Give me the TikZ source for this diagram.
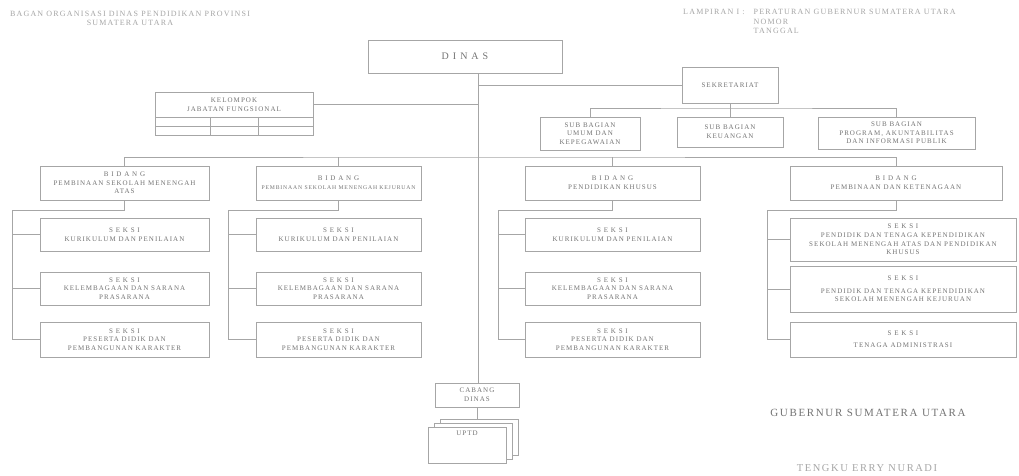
\documentclass[tikz,border=0pt]{standalone}
\usepackage{fontspec}
\setmainfont{Liberation Serif}
\newfontfamily\orgfont[LetterSpace=15]{Liberation Serif}
\colorlet{linegray}{black!35}
\colorlet{txtgray}{black!55}
\colorlet{hdrgray}{black!35}
\begin{document}
\begin{tikzpicture}[x=1pt,y=-1pt,
    unit/.style={draw=linegray, line width=0.6pt, inner sep=1pt, align=center, text=txtgray, font=\orgfont\fontsize{7}{8.6}\selectfont},
    link/.style={draw=linegray, line width=0.6pt},
    note/.style={text=hdrgray, inner sep=0pt, font=\orgfont\fontsize{8}{9.5}\selectfont}]
\useasboundingbox[fill=white] (0,0) rectangle (1019,476);
\node[note, align=center] (bagan) at (130,18.5) {BAGAN ORGANISASI DINAS PENDIDIKAN PROVINSI\\SUMATERA UTARA};
\node[note, anchor=north west] (lampiran) at (683,8) {\renewcommand\arraystretch{1.0}\begin{tabular}{@{}l@{\hspace{9pt}}l@{}}LAMPIRAN I : & PERATURAN GUBERNUR SUMATERA UTARA\\ & NOMOR\\ & TANGGAL\end{tabular}};
\node[unit, minimum width=194pt, minimum height=33pt, font=\orgfont\fontsize{10}{11}\selectfont] (dinas) at (465,56.5) {D I N A S};
\coordinate (spine) at (478,73);
\node[unit, minimum width=96pt, minimum height=36pt] (sekre) at (730,85) {SEKRETARIAT};
\node[unit, minimum width=158pt, minimum height=25pt] (kelompok) at (234,104.5) {KELOMPOK\\JABATAN FUNGSIONAL};
\draw[link] (155,117) rectangle (313,135) (155,126) -- (313,126) (210,117) -- (210,135) (258,117) -- (258,135);
\node[unit, minimum width=100pt, minimum height=33pt] (subumum) at (590,133.5) {SUB BAGIAN\\UMUM DAN\\KEPEGAWAIAN};
\node[unit, minimum width=106pt, minimum height=30pt] (subkeu) at (730,132) {SUB BAGIAN\\KEUANGAN};
\node[unit, minimum width=157pt, minimum height=32pt] (subprog) at (896.5,133) {SUB BAGIAN\\PROGRAM, AKUNTABILITAS\\DAN INFORMASI PUBLIK};
\node[unit, minimum width=169pt, minimum height=34pt] (bidA) at (124.5,183) {B I D A N G\\PEMBINAAN SEKOLAH MENENGAH\\ATAS};
\node[unit, minimum width=165pt, minimum height=34pt] (bidB) at (338.5,183) {B I D A N G\\{\fontsize{5.7}{8.6}\selectfont PEMBINAAN SEKOLAH MENENGAH KEJURUAN}};
\node[unit, minimum width=175pt, minimum height=34pt] (bidC) at (612.5,183) {B I D A N G\\PENDIDIKAN KHUSUS};
\node[unit, minimum width=212pt, minimum height=34pt] (bidD) at (896,183) {B I D A N G\\PEMBINAAN DAN KETENAGAAN};
\node[unit, minimum width=169pt, minimum height=33pt] (sekA1) at (124.5,234.5) {S E K S I\\KURIKULUM DAN PENILAIAN};
\node[unit, minimum width=169pt, minimum height=33pt] (sekA2) at (124.5,288.5) {S E K S I\\KELEMBAGAAN DAN SARANA\\PRASARANA};
\node[unit, minimum width=169pt, minimum height=35pt] (sekA3) at (124.5,339.5) {S E K S I\\PESERTA DIDIK DAN\\PEMBANGUNAN KARAKTER};
\node[unit, minimum width=165pt, minimum height=33pt] (sekB1) at (338.5,234.5) {S E K S I\\KURIKULUM DAN PENILAIAN};
\node[unit, minimum width=165pt, minimum height=33pt] (sekB2) at (338.5,288.5) {S E K S I\\KELEMBAGAAN DAN SARANA\\PRASARANA};
\node[unit, minimum width=165pt, minimum height=35pt] (sekB3) at (338.5,339.5) {S E K S I\\PESERTA DIDIK DAN\\PEMBANGUNAN KARAKTER};
\node[unit, minimum width=175pt, minimum height=33pt] (sekC1) at (612.5,234.5) {S E K S I\\KURIKULUM DAN PENILAIAN};
\node[unit, minimum width=175pt, minimum height=33pt] (sekC2) at (612.5,288.5) {S E K S I\\KELEMBAGAAN DAN SARANA\\PRASARANA};
\node[unit, minimum width=175pt, minimum height=35pt] (sekC3) at (612.5,339.5) {S E K S I\\PESERTA DIDIK DAN\\PEMBANGUNAN KARAKTER};
\node[unit, minimum width=226pt, minimum height=43pt] (sekD1) at (903,239.5) {S E K S I\\PENDIDIK DAN TENAGA KEPENDIDIKAN\\SEKOLAH MENENGAH ATAS DAN PENDIDIKAN\\KHUSUS};
\node[unit, minimum width=226pt, minimum height=46pt] (sekD2) at (903,289) {S E K S I\\[4pt]PENDIDIK DAN TENAGA KEPENDIDIKAN\\SEKOLAH MENENGAH KEJURUAN};
\node[unit, minimum width=226pt, minimum height=35pt] (sekD3) at (903,339.5) {S E K S I\\[3pt]TENAGA ADMINISTRASI};
\node[unit, minimum width=84pt, minimum height=24pt] (cabang) at (477,395) {CABANG\\DINAS};
\node[unit, fill=white, minimum width=78pt, minimum height=36pt] (uptd3) at (479,437) {};
\node[unit, fill=white, minimum width=78pt, minimum height=36pt] (uptd2) at (473,441) {};
\node[unit, fill=white, minimum width=78pt, minimum height=36pt] (uptd) at (467,445) {UPTD\\[14pt]\mbox{}};
\node[text=txtgray, font=\orgfont\fontsize{11}{13}\selectfont] (gubernur) at (868,413) {GUBERNUR SUMATERA UTARA};
\node[text=hdrgray, font=\orgfont\fontsize{10.5}{12}\selectfont] (nama) at (867,468) {TENGKU ERRY NURADI};
\draw[link] (dinas.south -| spine) -- (spine |- cabang.north);
\draw[link] (spine |- sekre.west) -- (sekre.west);
\draw[link] (kelompok.east) -- (kelompok.east -| spine);
\draw[link] (sekre.south) -- (subkeu.north);
\coordinate (subbus) at (730,108);
\draw[link] (subumum.north) |- (subbus) -| (subprog.north);
\coordinate (bidbus) at (478,157);
\draw[link] (bidA.north) |- (bidbus) -| (bidD.north);
\draw[link] (bidB.north) -- (bidB.north |- bidbus);
\draw[link] (bidC.north) -- (bidC.north |- bidbus);
\coordinate (sideA) at (12,210);
\coordinate (sideB) at (228,210);
\coordinate (sideC) at (498,210);
\coordinate (sideD) at (767,210);
\draw[link] (bidA.south) |- (sideA) -- (sideA |- sekA3.west) -- (sekA3.west) (sideA |- sekA1.west) -- (sekA1.west) (sideA |- sekA2.west) -- (sekA2.west);
\draw[link] (bidB.south) |- (sideB) -- (sideB |- sekB3.west) -- (sekB3.west) (sideB |- sekB1.west) -- (sekB1.west) (sideB |- sekB2.west) -- (sekB2.west);
\draw[link] (bidC.south) |- (sideC) -- (sideC |- sekC3.west) -- (sekC3.west) (sideC |- sekC1.west) -- (sekC1.west) (sideC |- sekC2.west) -- (sekC2.west);
\draw[link] (bidD.south) |- (sideD) -- (sideD |- sekD3.west) -- (sekD3.west) (sideD |- sekD1.west) -- (sekD1.west) (sideD |- sekD2.west) -- (sekD2.west);
\draw[link] (cabang.south) -- (cabang.south |- uptd3.north);
\end{tikzpicture}
\end{document}
